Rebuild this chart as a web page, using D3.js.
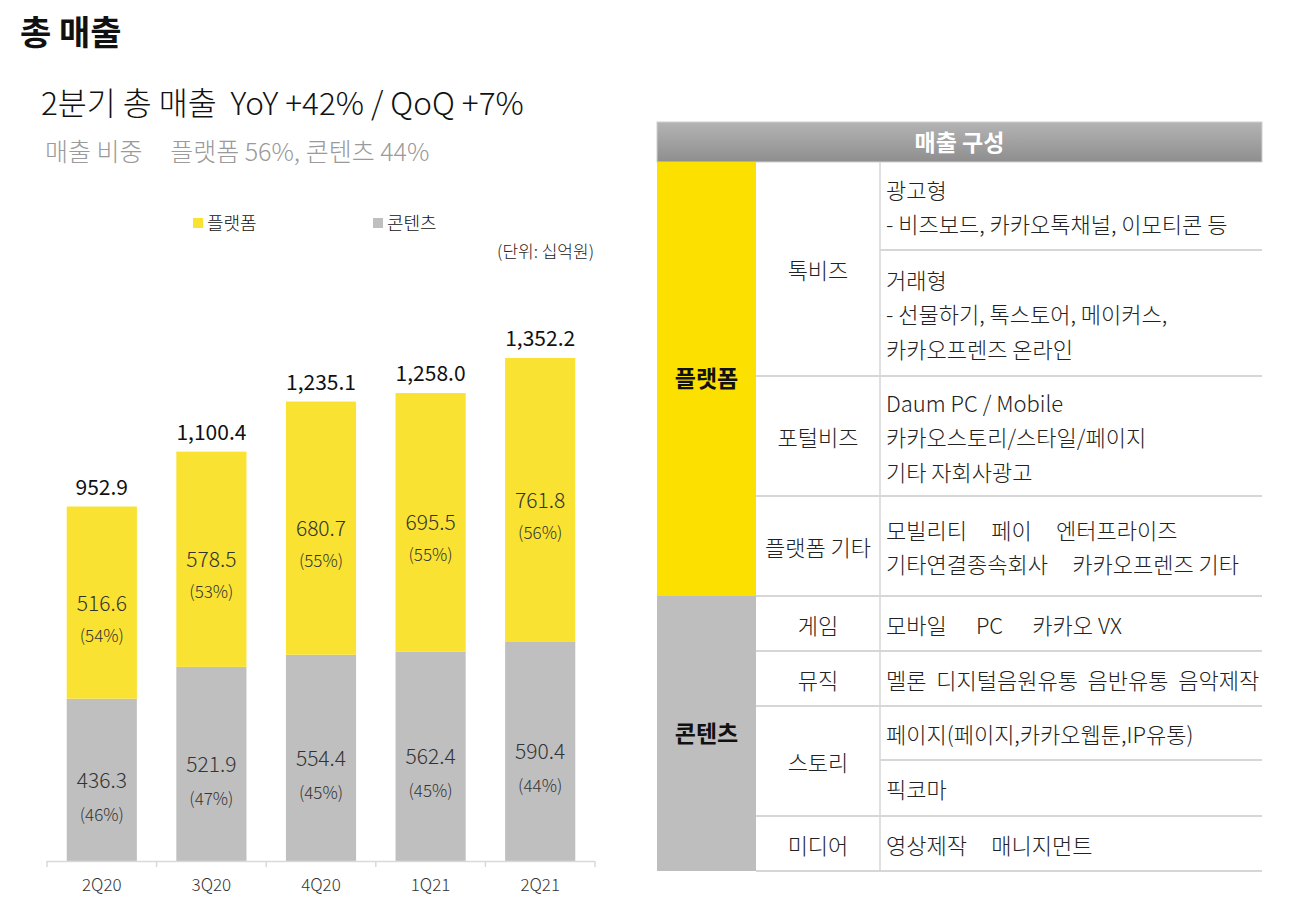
<!DOCTYPE html>
<html><head><meta charset="utf-8">
<script src="https://cdn.jsdelivr.net/npm/d3@7"></script>
<style>
html,body{margin:0;padding:0;background:#fff;}
svg{display:block;font-family:"Noto Sans CJK KR","Noto Sans",sans-serif;}
svg text{white-space:pre;}
</style></head>
<body>
<svg id="c" width="1289" height="900"></svg>
<script>
// ---- data ----
const categories = ["2Q20","3Q20","4Q20","1Q21","2Q21"];
const platform = [516.6, 578.5, 680.7, 695.5, 761.8];
const contents = [436.3, 521.9, 554.4, 562.4, 590.4];
const totals = [952.9, 1100.4, 1235.1, 1258.0, 1352.2];
const platformPct = ["(54%)","(53%)","(55%)","(55%)","(56%)"];
const contentsPct = ["(46%)","(47%)","(45%)","(45%)","(44%)"];
const seriesNames = ["플랫폼","콘텐츠"];

// table data
const tableHeader = "매출 구성";
const groups = [
  {name:"플랫폼", rows:[0,1,2]},
  {name:"콘텐츠", rows:[3,4,5,6]}
];
const subNames = ["톡비즈","포털비즈","플랫폼 기타","게임","뮤직","스토리","미디어"];
const subItems = [
  [["광고형","- 비즈보드, 카카오톡채널, 이모티콘 등"],["거래형","- 선물하기, 톡스토어, 메이커스,","카카오프렌즈 온라인"]],
  [["Daum PC / Mobile","카카오스토리/스타일/페이지","기타 자회사광고"]],
  [["모빌리티     페이     엔터프라이즈","기타연결종속회사     카카오프렌즈 기타"]],
  [["모바일      PC      카카오 VX"]],
  [["멜론  디지털음원유통  음반유통  음악제작"]],
  [["페이지(페이지,카카오웹툰,IP유통)"],["픽코마"]],
  [["영상제작     매니지먼트"]]
];
const cellHeights = [[88,126],[120],[100],[55],[55],[54,56],[55]];

const svg = d3.select("#c");
const C_YEL = "#F9E231", C_GRY = "#BFBFBF";

// ---- titles ----
svg.append("text").attr("x",20).attr("y",45).attr("font-size",34).attr("font-weight",700).attr("fill","#111").text("총 매출");
svg.append("text").attr("x",41).attr("y",115).attr("font-size",31.5).attr("font-weight",300).attr("fill","#111").text("2분기 총 매출  YoY +42% / QoQ +7%");
svg.append("text").attr("x",45).attr("y",161).attr("font-size",25).attr("font-weight",300).attr("fill","#9a9a9a").text("매출 비중     플랫폼 56%, 콘텐츠 44%");

// ---- legend ----
const legX = [193, 373], legC = [C_YEL, C_GRY];
seriesNames.forEach((n,i)=>{
  svg.append("rect").attr("x",legX[i]).attr("y",218).attr("width",10).attr("height",10).attr("fill",legC[i]);
  svg.append("text").attr("x",legX[i]+14).attr("y",230).attr("font-size",18).attr("font-weight",300).attr("fill","#111").text(n);
});
svg.append("text").attr("x",594).attr("y",258).attr("text-anchor","end").attr("font-size",17).attr("font-weight",300).attr("fill","#222").text("(단위: 십억원)");

// ---- chart ----
const x = d3.scaleBand().domain(categories).range([47,595]).paddingInner(0.36).paddingOuter(0.18);
const y = d3.scaleLinear().domain([0,1400]).range([861, 861-1400*0.372]);

const g = svg.append("g");
categories.forEach((c,i)=>{
  const bx = x(c), bw = x.bandwidth();
  const yc = y(contents[i]), yt = y(contents[i]+platform[i]);
  g.append("rect").attr("x",bx).attr("y",yc).attr("width",bw).attr("height",y(0)-yc).attr("fill",C_GRY);
  g.append("rect").attr("x",bx).attr("y",yt).attr("width",bw).attr("height",yc-yt).attr("fill",C_YEL);
  const cx = bx + bw/2;
  const my = (yt+yc)/2, mc = (yc+y(0))/2;
  g.append("text").attr("x",cx).attr("y",my+8).attr("text-anchor","middle").attr("font-size",21).attr("font-weight",300).attr("fill","#333").text(platform[i].toFixed(1));
  g.append("text").attr("x",cx).attr("y",my+39).attr("text-anchor","middle").attr("font-size",17).attr("font-weight",300).attr("fill","#333").text(platformPct[i]);
  g.append("text").attr("x",cx).attr("y",mc+8).attr("text-anchor","middle").attr("font-size",21).attr("font-weight",300).attr("fill","#333").text(contents[i].toFixed(1));
  g.append("text").attr("x",cx).attr("y",mc+41).attr("text-anchor","middle").attr("font-size",17).attr("font-weight",300).attr("fill","#333").text(contentsPct[i]);
  g.append("text").attr("x",cx).attr("y",yt-12).attr("text-anchor","middle").attr("font-size",21).attr("font-weight",400).attr("fill","#111").text(d3.format(",.1f")(totals[i]));
});

// axis
const ax = svg.append("g").attr("transform","translate(0,861)");
ax.append("line").attr("x1",47).attr("x2",595).attr("y1",0.5).attr("y2",0.5).attr("stroke","#d9d9d9").attr("stroke-width",1.5);
const bounds = d3.range(categories.length+1).map(k=>47+k*(548/categories.length));
bounds.forEach(b=>ax.append("line").attr("x1",b).attr("x2",b).attr("y1",0).attr("y2",6).attr("stroke","#d9d9d9").attr("stroke-width",1.5));
categories.forEach(c=>ax.append("text").attr("x",x(c)+x.bandwidth()/2).attr("y",30).attr("text-anchor","middle").attr("font-size",17).attr("font-weight",300).attr("fill","#333").text(c));

// ---- table ----
const T = {x0:657, x1:756, x2:880, x3:1262, top:122, hb:162};
const FS = 22;
const defs = svg.append("defs");
const lg = defs.append("linearGradient").attr("id","hg").attr("x1",0).attr("y1",0).attr("x2",0).attr("y2",1);
lg.append("stop").attr("offset","0%").attr("stop-color","#b4b4b4");
lg.append("stop").attr("offset","100%").attr("stop-color","#8e8e8e");
svg.append("rect").attr("x",T.x0).attr("y",T.top).attr("width",T.x3-T.x0).attr("height",T.hb-T.top).attr("fill","url(#hg)").attr("stroke","#d0d0d0").attr("stroke-width",1);
svg.append("text").attr("x",(T.x0+T.x3)/2).attr("y",T.top+29).attr("text-anchor","middle").attr("font-size",23).attr("font-weight",700).attr("fill","#fff").text(tableHeader);

const lineC = "#d6d6d6";
let yy = T.hb;
const rowTops = [];
subNames.forEach((s,i)=>{
  rowTops.push(yy);
  const h = d3.sum(cellHeights[i]);
  svg.append("text").attr("x",(T.x1+T.x2)/2).attr("y",yy+h/2+10).attr("text-anchor","middle").attr("font-size",FS).attr("font-weight",300).attr("fill","#222").text(s);
  let cy = yy;
  subItems[i].forEach((lines,j)=>{
    const ch = cellHeights[i][j];
    const lh = 34.5;
    const start = cy + ch/2 - (lines.length-1)*lh/2 + 10;
    lines.forEach((t,k)=>{
      svg.append("text").attr("x",T.x2+6).attr("y",start+k*lh).attr("font-size",FS).attr("font-weight",300).attr("fill","#222").text(t);
    });
    cy += ch;
    if (j < subItems[i].length-1) {
      svg.append("line").attr("x1",T.x2).attr("x2",T.x3).attr("y1",cy).attr("y2",cy).attr("stroke",lineC).attr("stroke-width",2);
    }
  });
  yy += h;
  svg.append("line").attr("x1",T.x1).attr("x2",T.x3).attr("y1",yy).attr("y2",yy).attr("stroke",lineC).attr("stroke-width",2);
});
rowTops.push(yy);
const gColors = ["#FBE000", "#BEBEBE"];
groups.forEach((gr,i)=>{
  const t = rowTops[gr.rows[0]], b = rowTops[gr.rows[gr.rows.length-1]+1];
  svg.append("rect").attr("x",T.x0).attr("y",t).attr("width",T.x1-T.x0).attr("height",b-t).attr("fill",gColors[i]);
  svg.append("text").attr("x",(T.x0+T.x1)/2).attr("y",(t+b)/2+8).attr("text-anchor","middle").attr("font-size",23).attr("font-weight",700).attr("fill","#111").text(gr.name);
});
svg.append("line").attr("x1",T.x2).attr("x2",T.x2).attr("y1",T.hb).attr("y2",yy).attr("stroke",lineC).attr("stroke-width",1.5);
</script>
</body></html>
